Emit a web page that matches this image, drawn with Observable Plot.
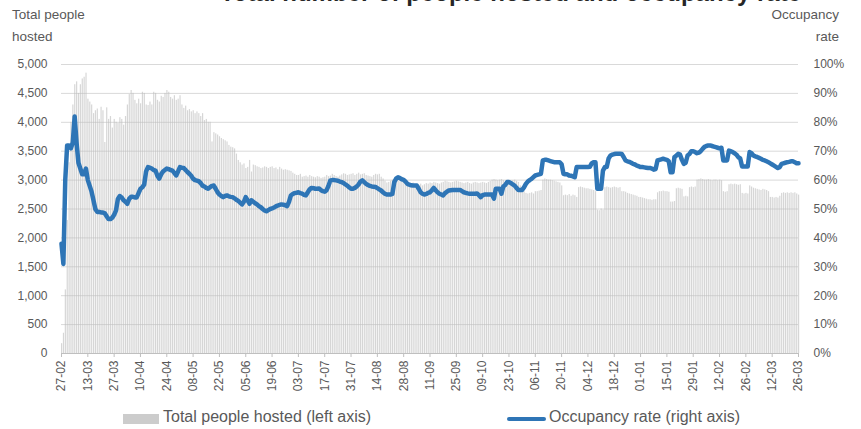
<!DOCTYPE html>
<html>
<head>
<meta charset="utf-8">
<script src="https://cdn.jsdelivr.net/npm/d3@7"></script>
<script src="https://cdn.jsdelivr.net/npm/@observablehq/plot@0.6"></script>
<style>
  html, body { margin: 0; padding: 0; background: #fff; }
  #wrap { position: relative; width: 861px; height: 429px; overflow: hidden;
          font-family: "Liberation Sans", Arial, sans-serif; color: #595959; }
  #title { position: absolute; left: 80px; width: 861px; top: -21px; text-align: center;
           font-size: 24px; font-weight: bold; color: #262626; white-space: nowrap; }
  .axtitle { position: absolute; font-size: 13.5px; line-height: 22px; color: #595959; }
  #chart { position: absolute; left: 0; top: 0; }
  #legend { position: absolute; left: 0; top: 400px; width: 861px; height: 29px; font-size: 16px; color: #595959; }
  .sw-bar { position: absolute; left: 123px; top: 14px; width: 36px; height: 10px; background: #cccccc; }
  .sw-line { position: absolute; left: 507px; top: 17px; width: 39px; height: 4px; background: #2e75b6; border-radius: 2px; }
  .lt { position: absolute; top: 8px; white-space: nowrap; }
</style>
</head>
<body>
<div id="wrap">
  <div id="title">Total number of people hosted and occupancy rate</div>
  <div class="axtitle" style="left:12px; top:4px;">Total people<br>hosted</div>
  <div class="axtitle" style="right:22px; top:4px; text-align:right;">Occupancy<br>rate</div>
  <div id="chart"></div>
  <div id="legend">
    <div class="sw-bar"></div><div class="lt" style="left:163px;">Total people hosted (left axis)</div>
    <div class="sw-line"></div><div class="lt" style="left:549px;">Occupancy rate (right axis)</div>
  </div>
</div>
<script>
// Daily series starting 27-02-2022 (one value per day, 393 days to 26-03-2023)
const startDate = [2022, 1, 27];

const hosted = [
  170,350,1100,2300,3300,4000,4300,4650,4700,4500,4650,4750,4780,4850,
  4400,4350,4300,4150,4200,4230,4050,4260,4200,3650,4250,4050,4100,3900,
  4050,4000,3980,4080,4050,3950,4100,4300,4480,4550,4500,4380,4320,4400,
  4320,4520,4500,4300,4290,4350,4300,4520,4500,4380,4350,4450,4430,4500,
  4550,4520,4430,4400,4460,4380,4400,4460,4300,4240,4280,4200,4220,4180,
  4200,4150,4180,4150,4100,4150,4030,4050,4000,4000,3660,3820,3800,3780,
  3750,3720,3700,3680,3660,3600,3570,3560,3540,3450,3340,3300,3260,3280,
  3200,3220,3340,3140,3260,3250,3230,3220,3200,3210,3230,3220,3200,3220,
  3230,3200,3210,3180,3220,3190,3170,3180,3170,3160,3150,3120,3100,3080,
  3080,3100,3050,3060,3070,3050,3080,3060,3050,3040,3060,3050,3030,3040,
  3050,3080,3060,3070,3100,3080,3060,3050,3070,3090,3110,3100,3080,3090,
  3100,3110,3080,3100,3120,3090,3100,3110,3080,3070,3060,3050,3080,3100,
  3090,3100,3050,3020,2980,2950,2960,2980,3000,3010,2990,2980,2970,2990,
  2980,2960,2950,2940,2930,2950,2920,2900,2910,2930,2900,2920,2940,2930,
  2950,2940,2960,2950,2940,2930,2950,2960,2980,2970,2960,2950,2960,2970,
  2980,2970,2960,2950,2940,2950,2960,2940,2930,2950,2960,2950,2940,2950,
  2960,2950,2940,2960,2980,3000,3010,3000,2990,3000,3010,2990,2960,2940,
  2950,2970,2990,3000,2980,2960,2900,2850,2800,2770,2760,2770,2780,2760,
  2800,2800,2810,2820,3000,3020,3010,3000,3000,2990,2980,2970,2960,2950,
  2900,2730,2740,2730,2750,2720,2740,2730,2700,2870,2880,2870,2860,2850,
  2850,2840,2830,2820,2800,2480,2470,2500,2480,2870,2880,2870,2860,2870,
  2880,2870,2860,2870,2800,2800,2790,2770,2760,2750,2740,2730,2720,2700,
  2700,2690,2680,2670,2660,2660,2650,2660,2660,2780,2800,2800,2810,2800,
  2800,2790,2620,2620,2630,2850,2860,2850,2840,2710,2720,2710,2870,2880,
  2870,2880,3000,3010,3020,3010,3000,3000,3010,3000,2990,3000,3000,2990,
  3000,2990,2800,2790,2800,2920,2930,2920,2930,2920,2910,2920,2770,2760,
  2770,2760,2900,2880,2860,2850,2840,2830,2820,2840,2830,2820,2800,2700,
  2700,2690,2700,2690,2720,2770,2780,2770,2780,2770,2780,2770,2780,2760,
  2740
];

const occupancy = [
  38,31,60,72,72,71,73,82,73,66,64,62,62,64,
  60,58,56,53,50,49,49,48.8,48.8,48.5,47.5,46.5,46.5,47,
  48,49.5,53.5,54.5,54,53,52.5,51.8,53.5,54.2,54.2,54,54,55.5,
  57,57.5,58.5,63,64.5,64.3,64,63.5,63.3,61.5,60.5,62,63,63.5,
  64,63.8,63.5,63.3,62.5,61.6,63,64.5,64.3,64.2,63.5,62.8,62.2,61.5,
  60.5,60,59.8,59.6,59,58.1,57.8,57.3,57,57.5,58,58.1,57,55.8,
  55,54.5,54.1,54.5,54.7,54.4,54.2,54.1,53.7,53.2,52.8,52.2,51.6,52.5,
  54.1,53,51.8,53,52.5,52,51.6,51,50.6,50,49.5,49.2,49.6,50,
  50.2,50.5,50.9,51.2,51.4,51.6,51.5,51.3,51,52.5,54.7,55.2,55.5,55.6,
  55.8,55.5,55.3,54.9,54.7,55.8,56.8,57.3,57.2,57,57,57.1,56.5,56.2,
  56,56.5,58,59.9,60,60,59.9,59.8,59.5,59.3,59,58.5,58.1,57.5,
  57,57,57.3,57.8,58.5,59.5,59.9,59.3,58.7,58.3,58,57.8,57.7,57.6,
  57.2,56.8,56.4,55.8,55.3,55,55,55,55.2,59.3,60.5,61,60.7,60.3,
  60.1,59.5,58.7,58.4,58.2,58.1,58.1,58.1,57,55.8,55.3,55,55.2,55.6,
  55.8,56.5,57.3,56.5,55.8,55.3,55,54.7,55.5,56,56.4,56.5,56.6,56.6,
  56.6,56.6,56.6,56.2,55.8,55.6,55.4,55.3,55.3,55.3,55.3,55.4,54.8,54.1,
  54.8,55,55,55,55,55,53.6,57,57,57,55.3,57.8,58.3,59.3,
  59.3,59,58.5,58.1,57.3,56.6,56.6,56.6,57.5,58.7,59.5,60,60.4,61,
  61.6,61.8,62,62.2,66.8,67,67,66.8,66.6,66.4,66.2,66.2,66.2,66.2,
  65.5,62.2,62,62,61.6,61.5,61.3,61,64.5,64.5,64.5,64.5,64.5,64.5,
  64.5,64.6,65.8,66.2,66.2,57,57,57,63.3,64.5,64.5,67.5,68.5,68.8,
  69,69.1,69.1,69.1,69,68,66.8,66.5,66.3,66,65.6,65.4,65,64.8,
  64.5,64.5,64.4,64.3,64.2,64.2,64,63.6,63.8,66.8,67,67.2,67.4,67.2,
  67,66.5,62.7,62.7,67.9,68.5,69.1,68.8,67,65.6,66,68.5,69,70,
  70,69.7,69.3,69.5,70,70.8,71.5,71.8,72,72,71.8,71.6,71.4,71.2,
  71,71.2,66.8,66.8,66.8,70.2,70,69.7,69.3,68.8,67.9,67.5,64.7,64.7,
  64.7,64.7,69.7,69.3,68.5,68.2,68,67.7,67.4,67,66.8,66.5,66.2,65.8,
  65.4,65,64.6,64.2,64.5,65.6,65.8,66,66.2,66.3,66.5,66.5,66.2,65.8,
  65.8
];

const xTickLabels = ["27-02","13-03","27-03","10-04","24-04","08-05","22-05","05-06","19-06","03-07",
  "17-07","31-07","14-08","28-08","11-09","25-09","09-10","23-10","06-11","20-11","04-12","18-12",
  "01-01","15-01","29-01","12-02","26-02","12-03","26-03"];
const leftTicks = [0,500,1000,1500,2000,2500,3000,3500,4000,4500,5000];
const rightTicks = [0,10,20,30,40,50,60,70,80,90,100];

const DAY = 86400000;
const dayDate = i => new Date(Date.UTC(startDate[0], startDate[1], startDate[2] + i));
const data = hosted.map((h, i) => ({date: dayDate(i), hosted: h, occ: occupancy[i]}));

// parse tick labels into dates (year rolls over when month order decreases)
let year = startDate[0], prev = null;
const tickDates = xTickLabels.map(s => {
  const [dd, mm] = s.split("-").map(Number);
  let d = new Date(Date.UTC(year, mm - 1, dd));
  if (prev && d < prev) { year++; d = new Date(Date.UTC(year, mm - 1, dd)); }
  prev = d;
  return d;
});

const maxHosted = leftTicks[leftTicks.length - 1];
const pctToY = p => p / 100 * maxHosted;

const chart = Plot.plot({
  width: 861,
  height: 400,
  marginLeft: 61,
  marginRight: 63,
  marginTop: 64,
  marginBottom: 47,
  style: {fontFamily: "'Liberation Sans', Arial, sans-serif", fontSize: "12px", color: "#595959", background: "transparent"},
  x: {type: "utc", domain: [tickDates[0], tickDates[tickDates.length - 1]]},
  y: {domain: [0, maxHosted]},
  marks: [
    Plot.ruleY(leftTicks.slice(1), {stroke: "#d9d9d9", strokeWidth: 1}),
    Plot.rectY(data, {
      x1: "date", x2: d => new Date(+d.date + DAY), y: "hosted",
      fill: "#bdbdbd", fillOpacity: 0.62, insetRight: 0.7
    }),
    Plot.ruleY([0], {stroke: "#bfbfbf", strokeWidth: 1}),
    Plot.lineY(data, {x: "date", y: d => pctToY(d.occ), stroke: "#2e75b6", strokeWidth: 4.5,
      strokeLinejoin: "round", strokeLinecap: "round"}),
    Plot.axisY({anchor: "left", ticks: leftTicks, tickSize: 0, tickPadding: 14,
      tickFormat: d3.format(","), label: null}),
    Plot.axisY({anchor: "right", ticks: rightTicks.map(pctToY), tickSize: 0, tickPadding: 15,
      tickFormat: d => Math.round(d / maxHosted * 100) + "%", label: null}),
    Plot.axisX({ticks: tickDates, tickFormat: d3.utcFormat("%d-%m"), tickRotate: -90,
      tickSize: 4, tickPadding: 3, stroke: "#bfbfbf", label: null})
  ]
});
document.getElementById("chart").appendChild(chart);
</script>
</body>
</html>
